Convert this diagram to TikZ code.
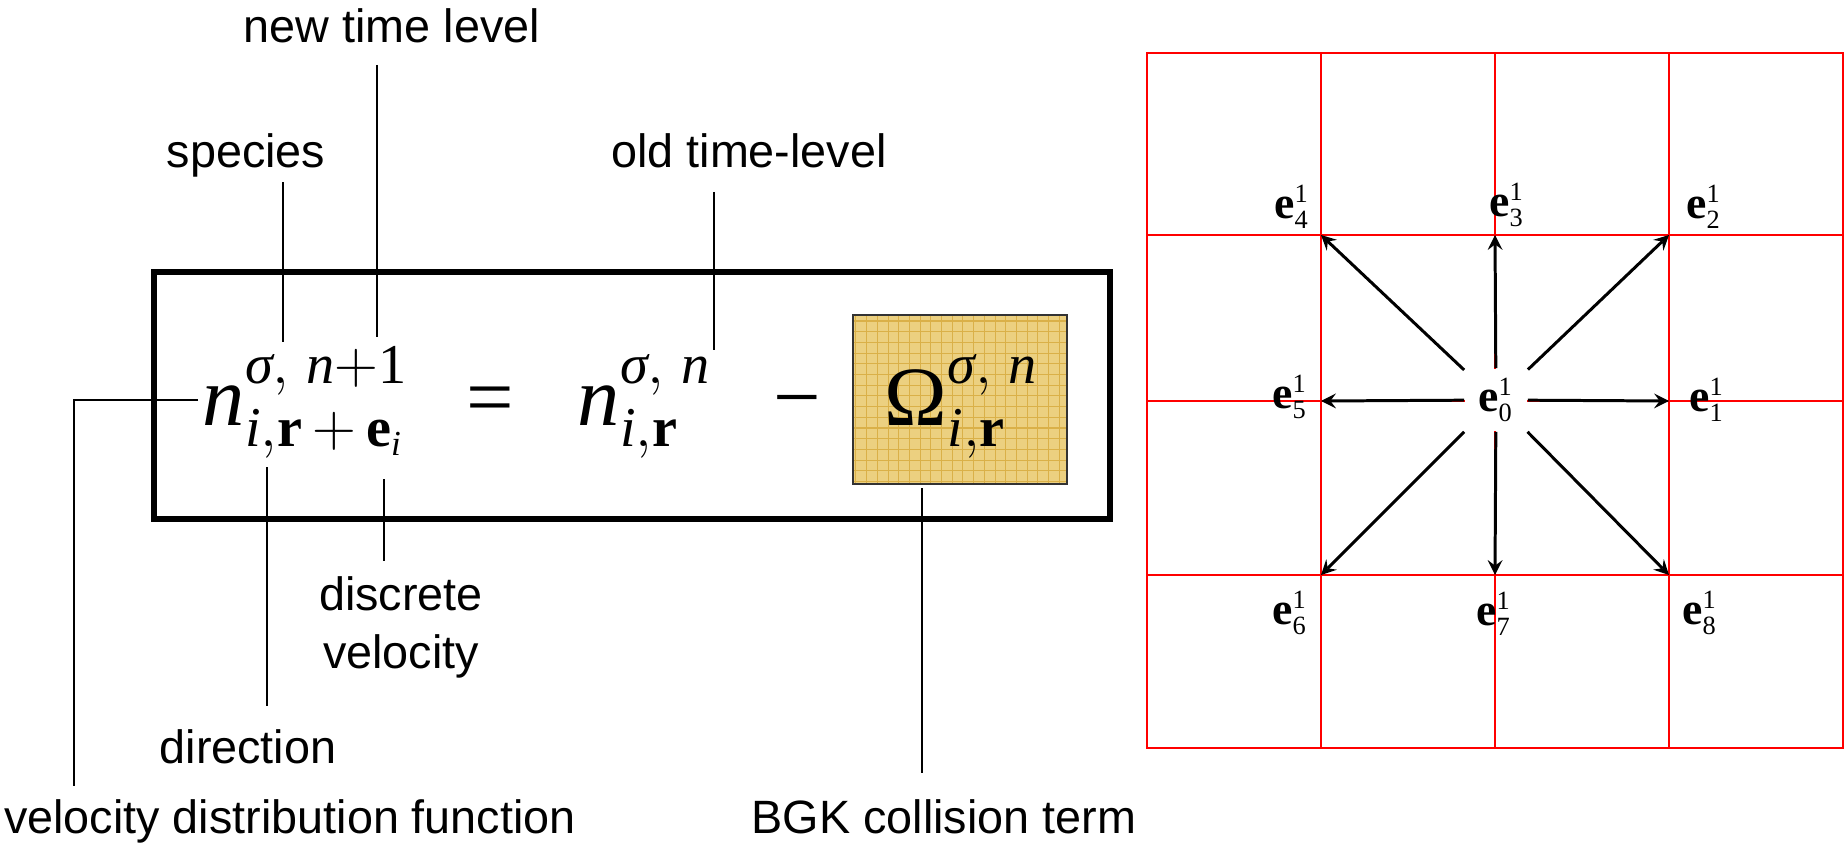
\documentclass[tikz,border=0pt]{standalone}
\usepackage{amsmath}
\usepackage{fontspec}
\setmainfont{Liberation Sans}
\newfontfamily\eqfont{Liberation Serif}
\DeclareMathSizes{24}{24}{16}{10}
\DeclareMathSizes{13}{13}{7.5}{5}
\newcommand{\vi}[1]{\text{\eqfont\itshape #1}}
\newcommand{\vb}[1]{\text{\eqfont\bfseries #1}}
\newcommand{\vr}[1]{\text{\eqfont #1}}
\definecolor{bgkfill}{RGB}{236,208,128}
\definecolor{bgkline}{RGB}{218,176,72}

\begin{document}
\begin{tikzpicture}[line width=0.5pt, every node/.style={font=\fontsize{13.3}{16.4}\selectfont},
  lattice/.style={red, line width=0.55pt},
  vec/.style={->, >=stealth, line width=0.85pt},
  eqn/.style={anchor=base west, inner sep=0pt, font=\fontsize{24}{28}\selectfont},
  evec/.style={inner sep=0pt, font=\fontsize{13}{15}\selectfont}]
  \useasboundingbox (0,0) rectangle (18.45,-8.49);

  % lattice
  \draw[lattice] (11.47,-0.53) rectangle (18.43,-7.48);
  \foreach \x in {13.21,14.95,16.69} \draw[lattice] (\x,-0.53) -- (\x,-7.48);
  \foreach \y in {-2.35,-4.01,-5.75} \draw[lattice] (11.47,\y) -- (18.43,\y);

  \coordinate (c1) at (16.69,-4.01);
  \coordinate (c2) at (16.69,-2.35);
  \coordinate (c3) at (14.95,-2.35);
  \coordinate (c4) at (13.21,-2.35);
  \coordinate (c5) at (13.21,-4.01);
  \coordinate (c6) at (13.21,-5.75);
  \coordinate (c7) at (14.95,-5.75);
  \coordinate (c8) at (16.69,-5.75);

  \node[evec, fill=white, minimum width=0.62cm, minimum height=0.62cm] (e0) at (14.96,-4.00) {$\vb{e}^{\vr{1}}_{\vr{0}}$};
  \node[evec] (e1) at (17.07,-4.00) {$\vb{e}^{\vr{1}}_{\vr{1}}$};
  \node[evec] (e2) at (17.04,-2.07) {$\vb{e}^{\vr{1}}_{\vr{2}}$};
  \node[evec] (e3) at (15.07,-2.05) {$\vb{e}^{\vr{1}}_{\vr{3}}$};
  \node[evec] (e4) at (12.92,-2.07) {$\vb{e}^{\vr{1}}_{\vr{4}}$};
  \node[evec] (e5) at (12.90,-3.97) {$\vb{e}^{\vr{1}}_{\vr{5}}$};
  \node[evec] (e6) at (12.90,-6.13) {$\vb{e}^{\vr{1}}_{\vr{6}}$};
  \node[evec] (e7) at (14.94,-6.14) {$\vb{e}^{\vr{1}}_{\vr{7}}$};
  \node[evec] (e8) at (17.00,-6.13) {$\vb{e}^{\vr{1}}_{\vr{8}}$};

  \foreach \c in {c1,c2,c3,c4,c5,c6,c7,c8} \draw[vec] (e0) -- (\c);

  % equation
  \draw[line width=1.7pt] (1.54,-2.72) rectangle (11.10,-5.19);
  \fill[bgkfill] (8.53,-3.15) rectangle (10.67,-4.84);
  \draw[bgkline, line width=0.3pt, step=0.107] (8.53,-4.84) grid (10.67,-3.15);
  \draw[black!80, line width=0.6pt] (8.53,-3.15) rectangle (10.67,-4.84);

  \node[eqn] (lhs) at (2.02,-4.25) {$\vi{n}^{\vi{σ},\;\vi{n}+\vr{1}}_{\vi{i},\vb{r}\,+\,\vb{e}_{\vi{i}}}$};
  \node[eqn, anchor=base] (eq) at (4.90,-4.25) {\eqfont =};
  \node[eqn] (rhs) at (5.77,-4.25) {$\vi{n}^{\vi{σ},\;\vi{n}}_{\vi{i},\vb{r}}$};
  \node[eqn, anchor=base] (minus) at (7.97,-4.25) {\eqfont −};
  \node[eqn] (bgk) at (8.84,-4.25) {$\vr{Ω}^{\vi{σ},\;\vi{n}}_{\vi{i},\vb{r}}$};

  % labels
  \node[anchor=base] (species) at (2.46,-1.68) {species};
  \node[anchor=base] (newtime) at (3.92,-0.43) {new time level};
  \node[anchor=base] (oldtime) at (7.49,-1.68) {old time-level};
  \node[anchor=base, align=center] (discrete) at (4.01,-6.68) {discrete\\velocity};
  \node[anchor=base] (direction) at (2.48,-7.63) {direction};
  \node[anchor=base] (vdf) at (2.90,-8.33) {velocity distribution function};
  \node[anchor=base] (bgkterm) at (9.44,-8.33) {BGK collision term};

  \coordinate (sp-a) at (2.83,-1.82);  \coordinate (sp-b) at (2.83,-3.42);
  \coordinate (nt-a) at (3.77,-0.65);  \coordinate (nt-b) at (3.77,-3.37);
  \coordinate (ot-a) at (7.14,-1.92);  \coordinate (ot-b) at (7.14,-3.50);
  \coordinate (di-a) at (2.67,-4.67);  \coordinate (di-b) at (2.67,-7.06);
  \coordinate (dv-a) at (3.84,-4.79);  \coordinate (dv-b) at (3.84,-5.61);
  \coordinate (bg-a) at (9.22,-4.88);  \coordinate (bg-b) at (9.22,-7.73);
  \coordinate (vd-a) at (1.98,-4.00);  \coordinate (vd-b) at (0.74,-7.86);

  \draw (sp-a) -- (sp-b);
  \draw (nt-a) -- (nt-b);
  \draw (ot-a) -- (ot-b);
  \draw (di-a) -- (di-b);
  \draw (dv-a) -- (dv-b);
  \draw (bg-a) -- (bg-b);
  \draw (vd-a) -| (vd-b);
\end{tikzpicture}
\end{document}
